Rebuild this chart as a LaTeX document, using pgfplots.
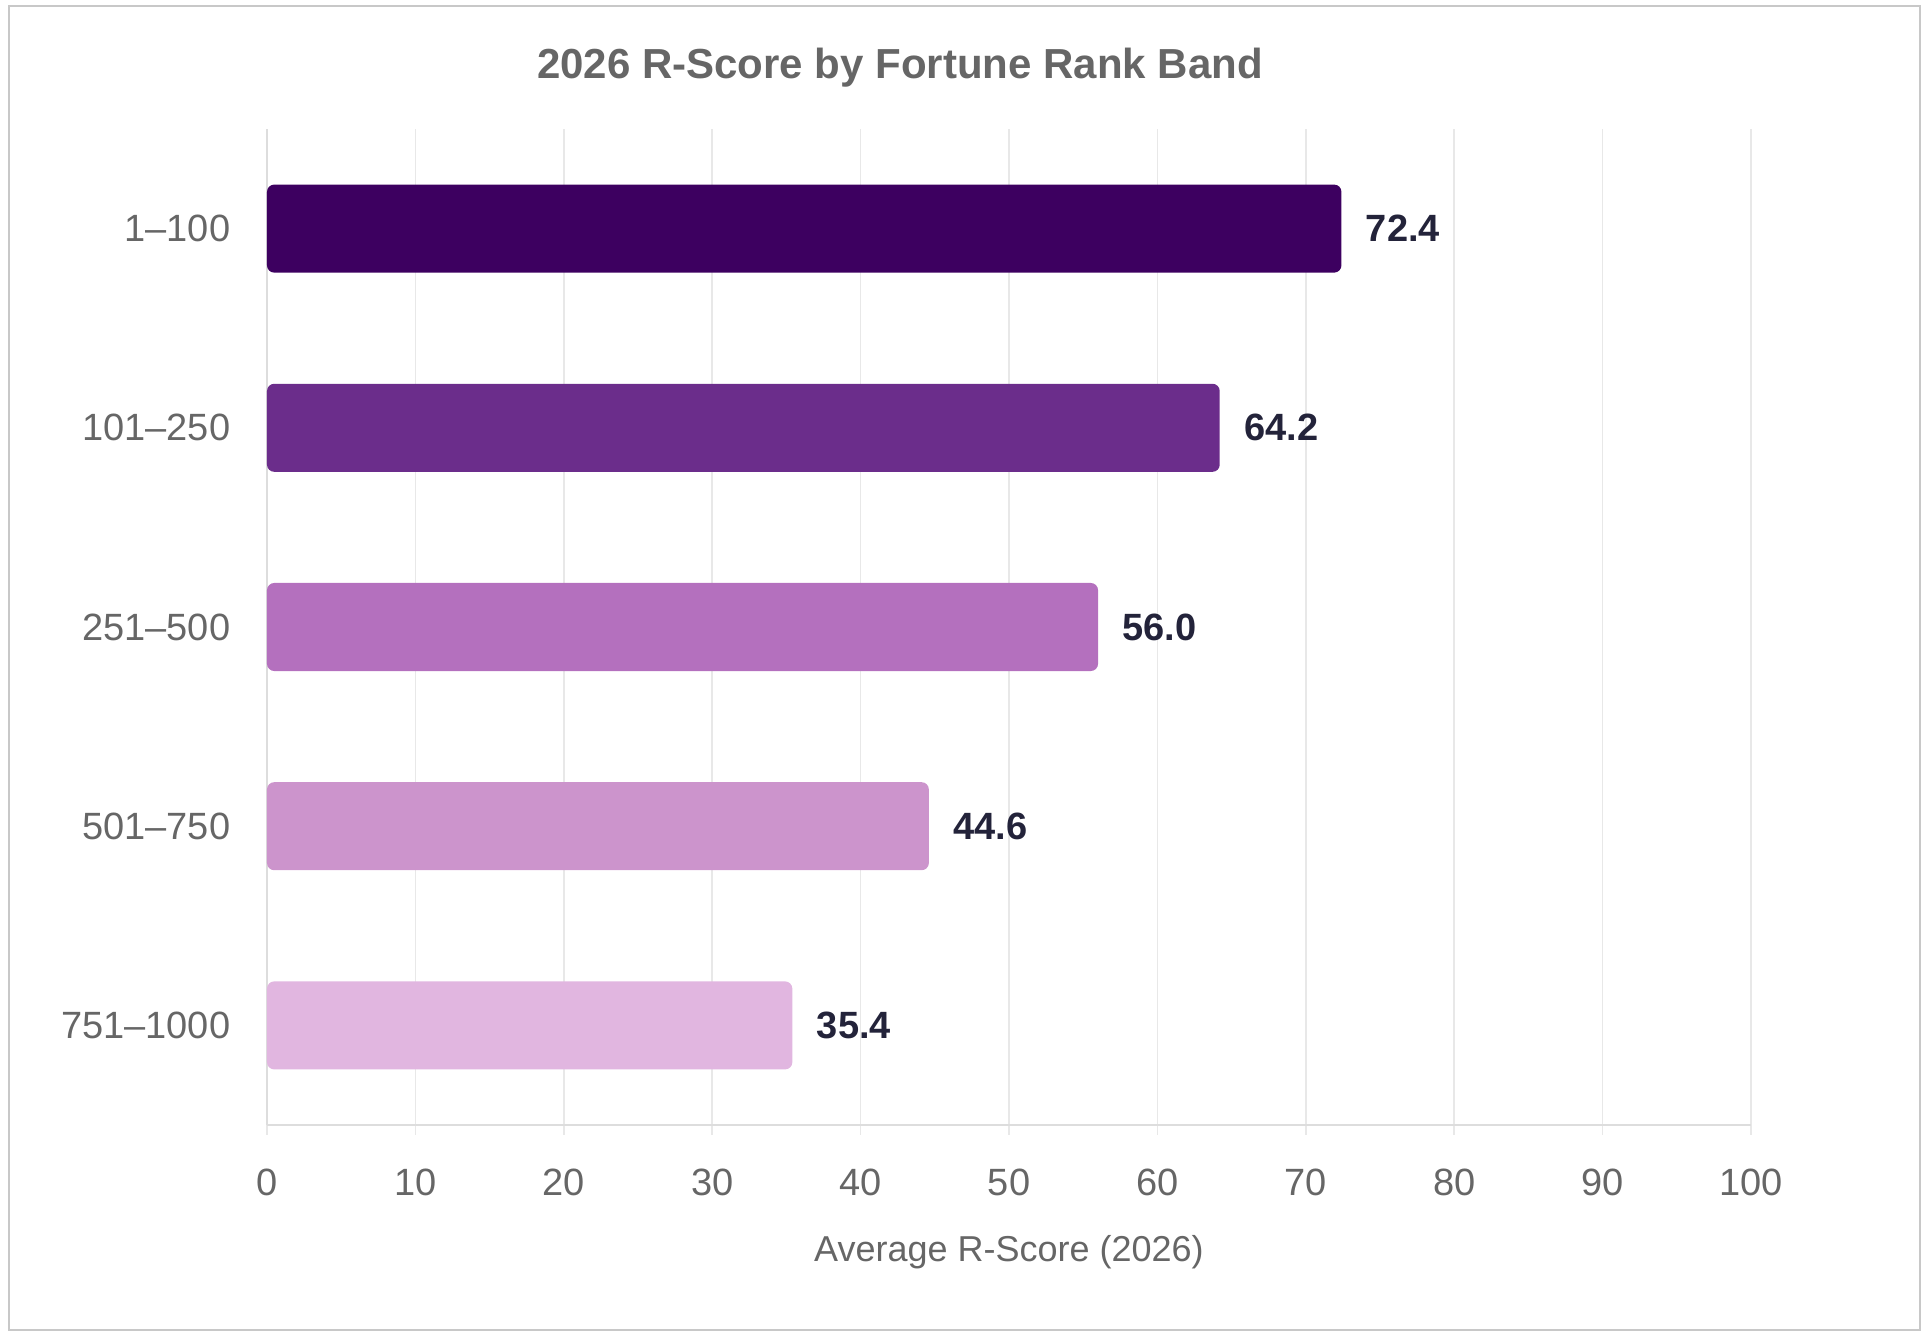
\documentclass[border=0pt]{standalone}
\usepackage{fontspec}
\setmainfont{Liberation Sans}
\usepackage{pgfplots}
\pgfplotsset{compat=1.18}

\definecolor{bandA}{HTML}{3D0060}
\definecolor{bandB}{HTML}{6B2D8B}
\definecolor{bandC}{HTML}{B470BE}
\definecolor{bandD}{HTML}{CC94CC}
\definecolor{bandE}{HTML}{E1B6E0}
\definecolor{gridgray}{HTML}{E8E8E8}
\definecolor{axisgray}{HTML}{DDDDDD}
\definecolor{textgray}{HTML}{666666}
\definecolor{valuecol}{HTML}{23233A}
\definecolor{framegray}{HTML}{C8C8C8}

\begin{document}
\begin{tikzpicture}
\useasboundingbox (0,0) rectangle (481.5pt,334pt);
\draw[framegray, line width=0.5pt] (2.25pt,1.5pt) rectangle (480pt,332.5pt);
\node[font=\fontsize{10.5}{12}\selectfont\bfseries, text=textgray] at (225pt,317pt) {2026 R-Score by Fortune Rank Band};
\begin{axis}[
  at={(66.75pt,52.75pt)}, anchor=south west,
  width=371pt, height=249pt, scale only axis,
  xbar, bar width=22pt, bar shift=0pt,
  xmin=0, xmax=100, ymin=-0.5, ymax=4.5,
  xtick={0,10,...,100}, ytick={0,1,2,3,4},
  yticklabels={751--1000,501--750,251--500,101--250,1--100},
  xmajorgrids, grid style={gridgray, line width=0.4pt},
  axis x line*=bottom, axis y line*=left,
  x axis line style={axisgray, line width=0.5pt, -},
  y axis line style={axisgray, line width=0.5pt, -},
  tick align=outside, major tick length=2.5pt,
  xtick style={gridgray, line width=0.4pt}, ytick style={draw=none},
  /pgf/number format/assume math mode=true,
  ticklabel style={font=\fontsize{9.5}{11}\selectfont, text=textgray, inner sep=0pt},
  xticklabel style={anchor=center, yshift=-11.75pt},
  yticklabel style={anchor=east, xshift=-6.5pt},
  xlabel={Average R-Score (2026)},
  xlabel style={at={(axis description cs:0.5,0)}, anchor=center, yshift=-31.75pt,
    font=\fontsize{9}{11}\selectfont, text=textgray},
  nodes near coords,
  nodes near coords style={anchor=west, xshift=2.6pt,
    font=\fontsize{9.5}{11}\selectfont\bfseries, text=valuecol,
    /pgf/number format/fixed, /pgf/number format/fixed zerofill,
    /pgf/number format/precision=1},
  every axis plot/.append style={draw=none, rounded corners=1.8pt},
]
\addplot[fill=bandA] coordinates {(72.4,4)};
\addplot[fill=bandB] coordinates {(64.2,3)};
\addplot[fill=bandC] coordinates {(56.0,2)};
\addplot[fill=bandD] coordinates {(44.6,1)};
\addplot[fill=bandE] coordinates {(35.4,0)};
\end{axis}
\end{tikzpicture}
\end{document}
